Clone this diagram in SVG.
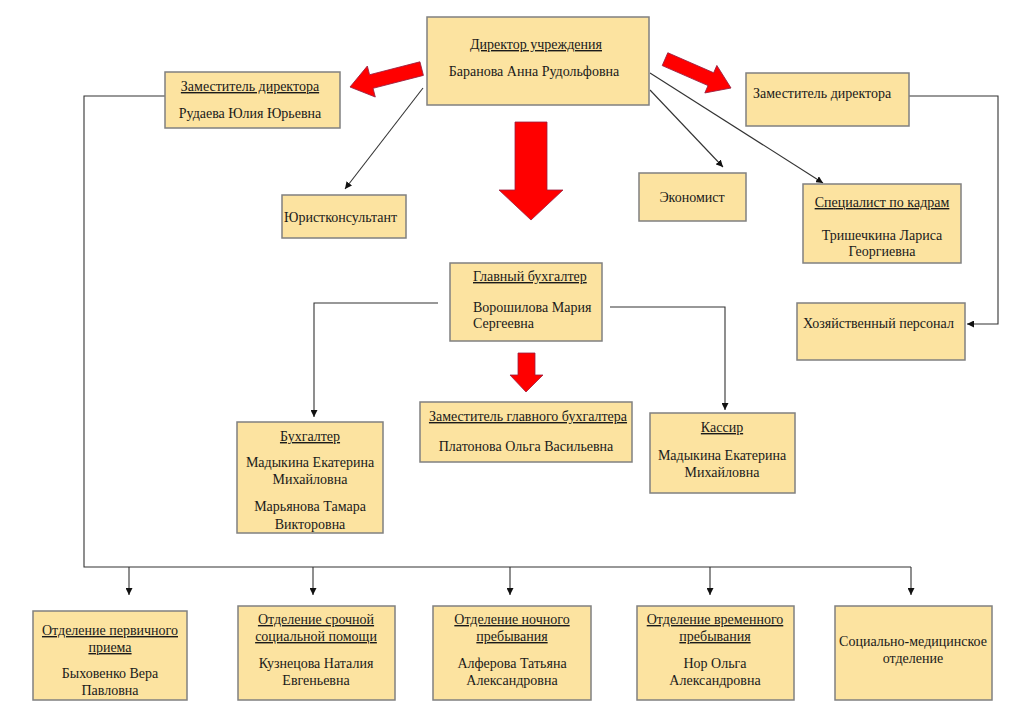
<svg xmlns="http://www.w3.org/2000/svg" width="1024" height="725" viewBox="0 0 1024 725" font-family="'Liberation Serif', 'Times New Roman', serif">
<defs>
<marker id="ah" viewBox="0 0 10 10" refX="10" refY="5" markerWidth="7" markerHeight="7" orient="auto" markerUnits="userSpaceOnUse">
<path d="M0,0 L10,5 L0,10 z" fill="#111"/>
</marker>
<style>
.box{fill:#FCE3A0;stroke:#808080;stroke-width:1.5}
text{font-family:'Liberation Serif','Times New Roman',serif;font-size:14px;fill:#1a1a1a}
.c{text-anchor:middle}
.u{text-decoration:underline}
.ln{fill:none;stroke:#333;stroke-width:1.1}
.red{fill:#FF0000;stroke:#9a2040;stroke-width:0.8}
</style>
</defs>
<rect width="1024" height="725" fill="#fff"/>

<g id="connectors">
<polyline class="ln" points="165,96 84,96 84,567 911,567"/>
<line class="ln" x1="129" y1="567" x2="129" y2="595" marker-end="url(#ah)"/>
<line class="ln" x1="313" y1="567" x2="313" y2="595" marker-end="url(#ah)"/>
<line class="ln" x1="510" y1="567" x2="510" y2="595" marker-end="url(#ah)"/>
<line class="ln" x1="710" y1="567" x2="710" y2="595" marker-end="url(#ah)"/>
<line class="ln" x1="911" y1="567" x2="911" y2="595" marker-end="url(#ah)"/>
<polyline class="ln" points="909,96 998,96 998,324 967,324" marker-end="url(#ah)"/>
<polyline class="ln" points="438,303 314,303 314,417" marker-end="url(#ah)"/>
<polyline class="ln" points="610,307 725,307 725,410" marker-end="url(#ah)"/>
<line class="ln" x1="423" y1="88" x2="345" y2="189" marker-end="url(#ah)"/>
<line class="ln" x1="650" y1="90" x2="723" y2="167" marker-end="url(#ah)"/>
<line class="ln" x1="650" y1="73" x2="823" y2="183" marker-end="url(#ah)"/>
<polygon class="red" transform="translate(350,87) rotate(-14.4)" points="0,0 22,-16 22,-7 74,-7 74,7 22,7 22,16"/>
<polygon class="red" transform="translate(731,88) rotate(23.6)" points="0,0 -22,-15 -22,-7 -72,-7 -72,7 -22,7 -22,15"/>
<polygon class="red" points="515,122 547,122 547,190 563,190 531,220 499,190 515,190"/>
<polygon class="red" points="518,353 535,353 535,375 543,375 526,392 510,375 518,375"/>
</g>

<g id="director">
<rect class="box" x="427" y="17" width="222" height="88"/>
<text class="c u" x="536" y="49">Директор учреждения</text>
<text class="c" x="534" y="76">Баранова Анна Рудольфовна</text>
</g>

<g id="deputy-left">
<rect class="box" x="165" y="72" width="175" height="56"/>
<text class="c u" x="250" y="91">Заместитель директора</text>
<text class="c" x="250" y="118">Рудаева Юлия Юрьевна</text>
</g>

<g id="deputy-right">
<rect class="box" x="746" y="73" width="163" height="53"/>
<text x="753" y="98">Заместитель директора</text>
</g>

<g id="lawyer">
<rect class="box" x="282" y="195" width="124" height="43"/>
<text x="284" y="222">Юристконсультант</text>
</g>

<g id="economist">
<rect class="box" x="639" y="173" width="107" height="48"/>
<text class="c" x="692" y="202">Экономист</text>
</g>

<g id="hr">
<rect class="box" x="803" y="184" width="158" height="79"/>
<text class="c u" x="882" y="207">Специалист по кадрам</text>
<text class="c" x="882" y="240">Тришечкина Лариса</text>
<text class="c" x="882" y="256">Георгиевна</text>
</g>

<g id="household">
<rect class="box" x="797" y="303" width="168" height="57"/>
<text x="803" y="328">Хозяйственный персонал</text>
</g>

<g id="chief-accountant">
<rect class="box" x="450" y="263" width="152" height="78"/>
<text class="u" x="473" y="281">Главный бухгалтер</text>
<text x="473" y="312">Ворошилова Мария</text>
<text x="473" y="328">Сергеевна</text>
</g>

<g id="accountant">
<rect class="box" x="237" y="422" width="146" height="111"/>
<text class="c u" x="310" y="441">Бухгалтер</text>
<text class="c" x="310" y="467">Мадыкина Екатерина</text>
<text class="c" x="310" y="484">Михайловна</text>
<text class="c" x="310" y="511">Марьянова Тамара</text>
<text class="c" x="310" y="529">Викторовна</text>
</g>

<g id="deputy-chief-accountant">
<rect class="box" x="420" y="402" width="212" height="60"/>
<text class="c u" x="528" y="421">Заместитель главного бухгалтера</text>
<text class="c" x="526" y="451">Платонова Ольга Васильевна</text>
</g>

<g id="cashier">
<rect class="box" x="650" y="413" width="145" height="80"/>
<text class="c u" x="722" y="432">Кассир</text>
<text class="c" x="722" y="460">Мадыкина Екатерина</text>
<text class="c" x="722" y="477">Михайловна</text>
</g>

<g id="dept-primary">
<rect class="box" x="33" y="611" width="154" height="89"/>
<text class="c u" x="110" y="635">Отделение первичного</text>
<text class="c u" x="110" y="652">приема</text>
<text class="c" x="110" y="678">Быховенко Вера</text>
<text class="c" x="110" y="695">Павловна</text>
</g>

<g id="dept-urgent">
<rect class="box" x="238" y="606" width="157" height="94"/>
<text class="c u" x="316" y="624">Отделение срочной</text>
<text class="c u" x="316" y="641">социальной помощи</text>
<text class="c" x="316" y="668">Кузнецова Наталия</text>
<text class="c" x="316" y="685">Евгеньевна</text>
</g>

<g id="dept-night">
<rect class="box" x="433" y="606" width="158" height="94"/>
<text class="c u" x="512" y="624">Отделение ночного</text>
<text class="c u" x="512" y="641">пребывания</text>
<text class="c" x="512" y="668">Алферова Татьяна</text>
<text class="c" x="512" y="685">Александровна</text>
</g>

<g id="dept-temporary">
<rect class="box" x="637" y="606" width="157" height="94"/>
<text class="c u" x="715" y="624">Отделение временного</text>
<text class="c u" x="715" y="641">пребывания</text>
<text class="c" x="715" y="668">Нор Ольга</text>
<text class="c" x="715" y="685">Александровна</text>
</g>

<g id="dept-medical">
<rect class="box" x="835" y="606" width="157" height="94"/>
<text class="c" x="913" y="646">Социально-медицинское</text>
<text class="c" x="913" y="663">отделение</text>
</g>
</svg>
